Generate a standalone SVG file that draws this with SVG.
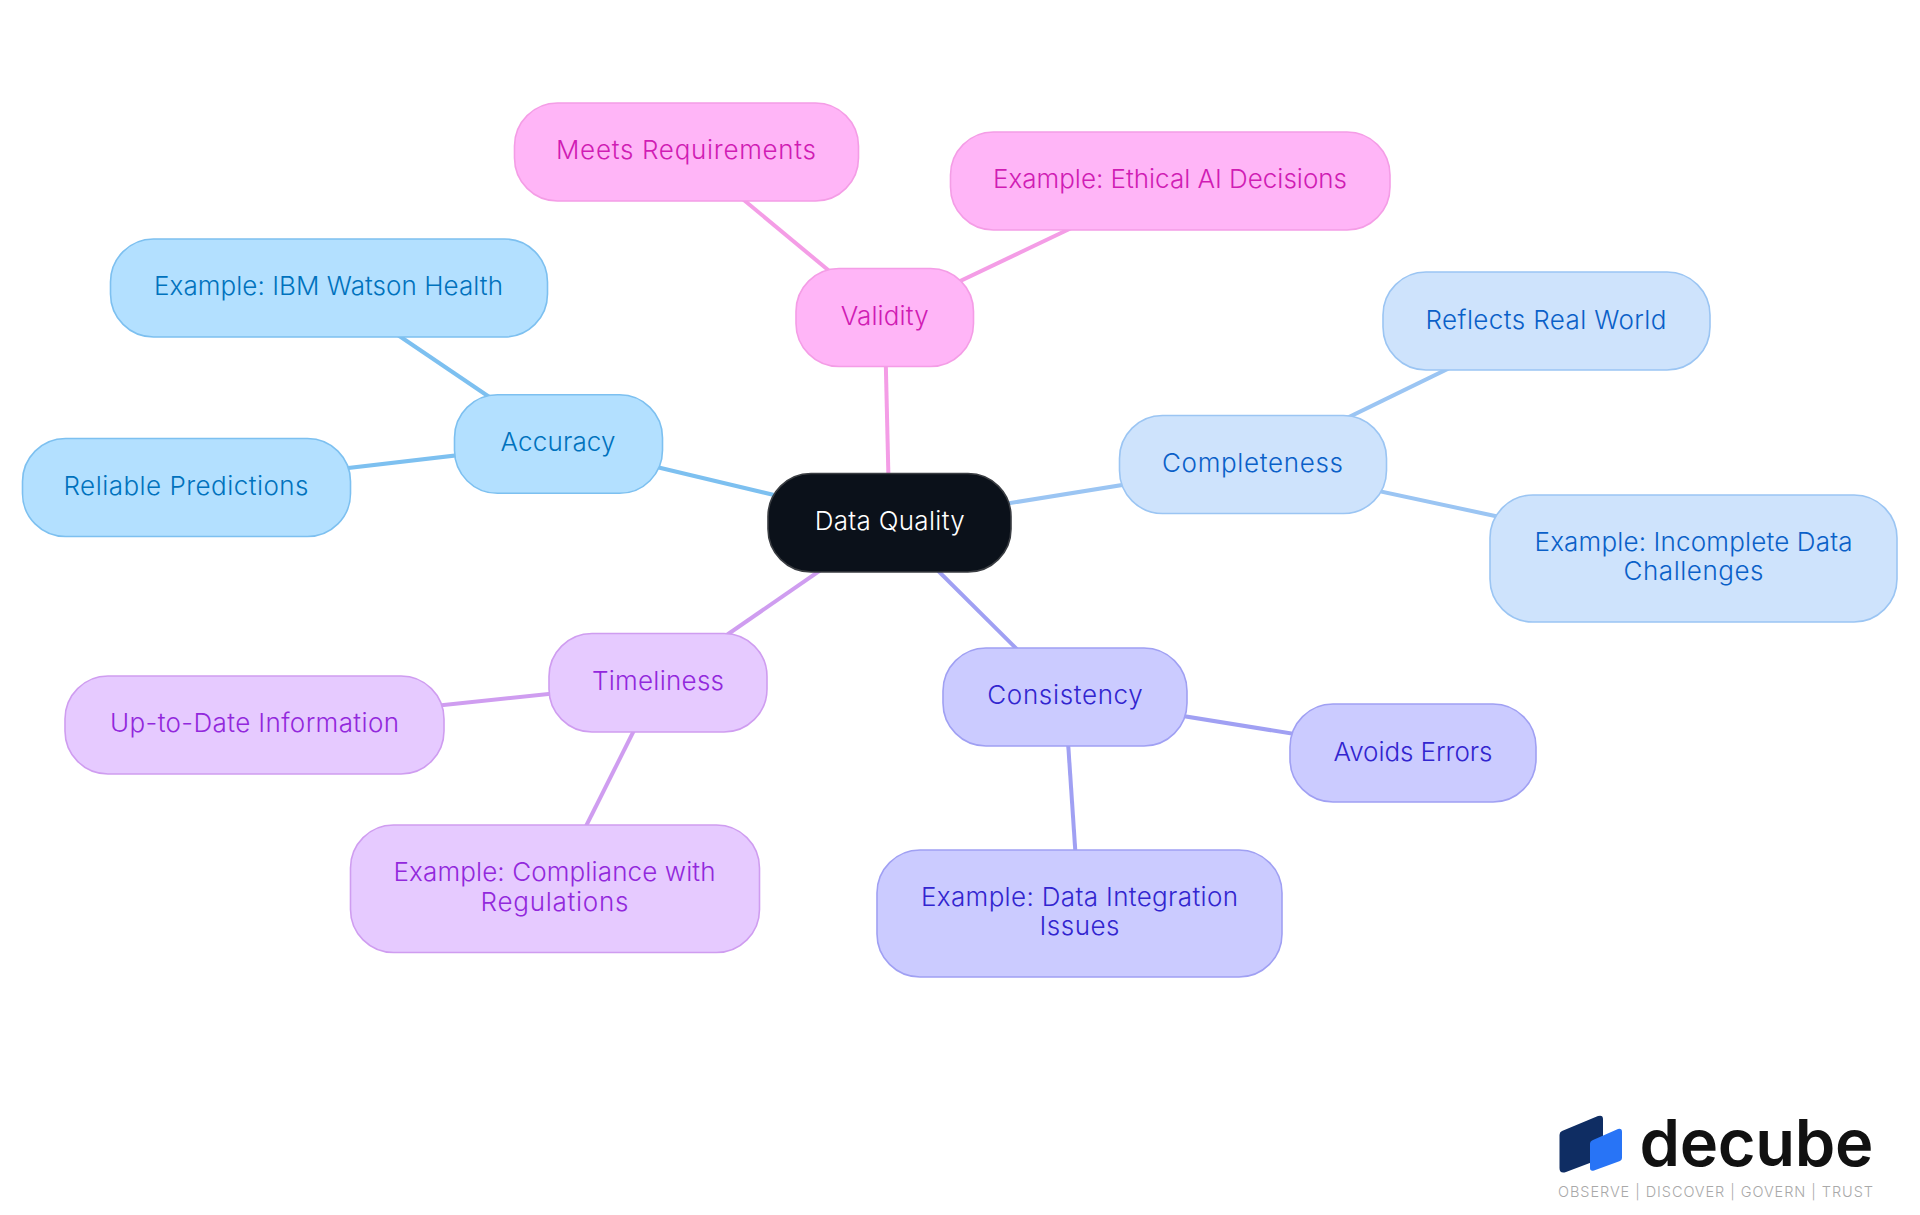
<svg xmlns="http://www.w3.org/2000/svg" width="1920" height="1215" viewBox="0 0 1920 1215">
<style>
text{font-family:"Inter","Noto Sans",sans-serif;font-size:26px;font-weight:350;text-anchor:middle}
.n{stroke-width:1.6}
.c{fill:none;stroke-width:4}
.a rect{fill:#b3e0ff;stroke:#7dc0f0}.a text{fill:#0072bd}
.b rect{fill:#cee3fc;stroke:#9bc5f3}.b text{fill:#0a60c8}
.d rect{fill:#cbcbff;stroke:#a0a0f3}.d text{fill:#3225cf}
.t rect{fill:#e6caff;stroke:#cf9df0}.t text{fill:#9228dc}
.v rect{fill:#ffb5f7;stroke:#f49de6}.v text{fill:#d01cb4}
.r rect{fill:#0b111a;stroke:#3a3d42}.r text{fill:#ffffff}
</style>
<rect width="1920" height="1215" fill="#ffffff"/>
<g id="connectors" class="c">
<g stroke="#7dc0f0"><line x1="889.5" y1="522.5" x2="558" y2="443.5"/><line x1="558" y1="443.5" x2="328.5" y2="288"/><line x1="558" y1="443.5" x2="186" y2="487"/></g>
<g stroke="#f49de6"><line x1="889.5" y1="522.5" x2="884.7" y2="317"/><line x1="884.7" y1="317" x2="686" y2="152"/><line x1="884.7" y1="317" x2="1170" y2="181"/></g>
<g stroke="#9bc5f3"><line x1="889.5" y1="522.5" x2="1252.5" y2="464"/><line x1="1252.5" y1="464" x2="1546" y2="321"/><line x1="1252.5" y1="464" x2="1693.5" y2="558.5"/></g>
<g stroke="#a0a0f3"><line x1="889.5" y1="522.5" x2="1065" y2="697"/><line x1="1065" y1="697" x2="1412.5" y2="753"/><line x1="1065" y1="697" x2="1079.5" y2="913.5"/></g>
<g stroke="#cf9df0"><line x1="889.5" y1="522.5" x2="658" y2="682.5"/><line x1="658" y1="682.5" x2="254" y2="725"/><line x1="658" y1="682.5" x2="554.5" y2="889"/></g>
</g>
<g id="root" class="n r"><rect x="768" y="473.500" width="243" height="98.500" rx="43"/><text x="889.7" y="530" textLength="150">Data Quality</text></g>
<g id="accuracy" class="n a"><rect x="454.500" y="394.800" width="208" height="98.500" rx="43"/><text x="558" y="450.500" textLength="115">Accuracy</text></g>
<g id="ibm" class="n a"><rect x="110.500" y="239" width="437" height="98" rx="43"/><text x="328.500" y="294.500" textLength="349">Example: IBM Watson Health</text></g>
<g id="reliable" class="n a"><rect x="22.500" y="438.500" width="328" height="98" rx="43"/><text x="186" y="494.500" textLength="245">Reliable Predictions</text></g>
<g id="validity" class="n v"><rect x="796" y="268.500" width="177.500" height="98" rx="43"/><text x="884.700" y="324.500" textLength="88">Validity</text></g>
<g id="meets" class="n v"><rect x="514.500" y="103" width="344" height="98" rx="43"/><text x="686" y="158.500" textLength="260">Meets Requirements</text></g>
<g id="ethical" class="n v"><rect x="950.500" y="132" width="439.500" height="98" rx="43"/><text x="1170" y="187.500" textLength="354">Example: Ethical AI Decisions</text></g>
<g id="completeness" class="n b"><rect x="1119.500" y="415.500" width="267" height="98" rx="43"/><text x="1252.500" y="471.500" textLength="181">Completeness</text></g>
<g id="reflects" class="n b"><rect x="1383" y="272" width="327" height="98" rx="43"/><text x="1546" y="328.500" textLength="241">Reflects Real World</text></g>
<g id="incomplete" class="n b"><rect x="1490" y="495" width="407" height="127" rx="43"/><text x="1693.500" y="551" textLength="318">Example: Incomplete Data</text><text x="1693.500" y="580" textLength="140">Challenges</text></g>
<g id="consistency" class="n d"><rect x="943" y="648" width="244" height="98" rx="43"/><text x="1065" y="703.500" textLength="155.500">Consistency</text></g>
<g id="avoids" class="n d"><rect x="1290" y="704" width="246" height="98" rx="43"/><text x="1413" y="760.500" textLength="159">Avoids Errors</text></g>
<g id="integration" class="n d"><rect x="877" y="850" width="405" height="127" rx="43"/><text x="1079.500" y="906" textLength="317">Example: Data Integration</text><text x="1079.500" y="935" textLength="80">Issues</text></g>
<g id="timeliness" class="n t"><rect x="549" y="633.500" width="218" height="98.500" rx="43"/><text x="658" y="690" textLength="132">Timeliness</text></g>
<g id="uptodate" class="n t"><rect x="65" y="676" width="379" height="98" rx="43"/><text x="254.500" y="731.500" textLength="289">Up-to-Date Information</text></g>
<g id="compliance" class="n t"><rect x="350.500" y="825" width="409" height="127.500" rx="43"/><text x="554.500" y="880.500" textLength="322">Example: Compliance with</text><text x="554.500" y="910.500" textLength="148">Regulations</text></g>
<g id="logo">
<path d="M1562 1131 L1598 1116 Q1603 1114.500 1603 1119 L1603 1158 L1566 1172 Q1559.500 1174 1559.500 1168 L1559.500 1135 Q1559.500 1132 1562 1131Z" fill="#0f2d63"/>
<path d="M1593 1140 L1618 1129 Q1622 1128 1622 1132 L1622 1158 Q1622 1160 1620 1161 L1594 1170.500 Q1590 1171.500 1590 1168 L1590 1144 Q1590 1141 1593 1140Z" fill="#2874f6"/>
<text x="1756.500" y="1166" textLength="234" style="font-size:65px;font-weight:600;fill:#111111">decube</text>
<text x="1715.500" y="1196.500" textLength="315" style="font-size:14.500px;fill:#a9a9a9">OBSERVE | DISCOVER | GOVERN | TRUST</text>
</g>
</svg>
